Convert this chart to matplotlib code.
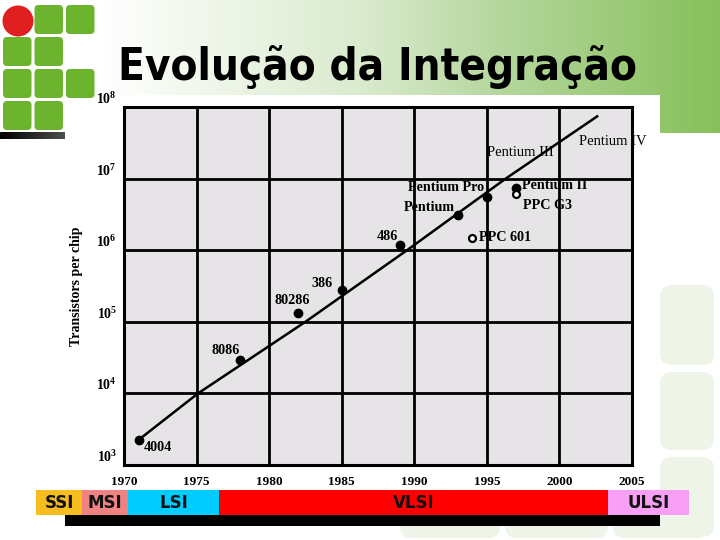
#!/usr/bin/env python3

import numpy as np
from matplotlib import pyplot as plt
from matplotlib import font_manager
from matplotlib.patches import FancyBboxPatch, Circle, Rectangle


# chip data (year, transistors per chip)
chips = ['4004', '8086', '80286', '386', '486', 'Pentium', 'Pentium Pro', 'Pentium II']
chip_years = [1971, 1978, 1982, 1985, 1989, 1993, 1995, 1997]
chip_counts = [2250, 29000, 134000, 275000, 1.2e6, 3.1e6, 5.5e6, 7.5e6]

ppc = ['PPC 601', 'PPC G3']
ppc_years = [1994, 1997]
ppc_counts = [1.5e6, 6.0e6]

# trend line
trend_years = [1971, 1975.1, 1982.5, 1989.5, 1996.3, 2002.6]
trend_counts = [2240, 1e4, 1e5, 1e6, 1e7, 7.4e7]

# labels without a marker
extra = ['Pentium III', 'Pentium IV']
extra_years = [1997.3, 2003.7]
extra_counts = [2.3e7, 3.3e7]

year_ticks = [1970, 1975, 1980, 1985, 1990, 1995, 2000, 2005]
exp_ticks = [3, 4, 5, 6, 7, 8]

eras = ['SSI', 'MSI', 'LSI', 'VLSI', 'ULSI']
era_colors = ['#f7bd1e', '#f08282', '#00ccff', '#ff0000', '#f79ef5']
era_edges = [36, 82, 128, 219, 608, 689]   # pixel layout of the strip


def narrow_font():
    # look for a condensed / narrow bold face, else None
    for f in font_manager.fontManager.ttflist:
        tag = (f.name + ' ' + str(f.stretch)).lower()
        if ('narrow' in tag or 'condensed' in tag) and f.weight in ('bold', 700):
            return f.fname
    return None


plt.switch_backend('agg')
plt.rcParams['mathtext.fontset'] = 'custom'
plt.rcParams['mathtext.rm'] = 'Liberation Serif'
plt.rcParams['mathtext.bf'] = 'Liberation Serif:bold'

serif = 'Liberation Serif'

fig = plt.figure(figsize=(7.2, 5.4), dpi=100)

# slide background in pixel coordinates
bg = fig.add_axes([0, 0, 1, 1], zorder=0)

# header gradient, white -> green
xs = np.linspace(0, 1, 720)
stops = [0.0, 0.14, 0.5, 0.7, 1.0]
cols = np.array([[255, 255, 255], [255, 255, 255], [218, 235, 206],
                 [180, 214, 156], [134, 192, 90]]) / 255.
grad = np.stack([np.interp(xs, stops, cols[:, k]) for k in range(3)], axis=-1)
grad = np.repeat(grad[None, :, :], 2, axis=0)
bg.imshow(grad, extent=[0, 720, 133, 0], aspect='auto', zorder=0)

# pale green blocks bottom right
pale = '#eef5e8'
for (x0, y0, w, h) in [(660, 285, 54, 80), (660, 372, 54, 78), (660, 457, 54, 80),
                       (400, 492, 100, 46), (505, 492, 103, 46), (613, 492, 95, 46)]:
    bg.add_patch(FancyBboxPatch((x0, y0), w, h, boxstyle='round,pad=0,rounding_size=12',
                                fc=pale, ec='none', zorder=1))

# white panel of the chart picture
bg.add_patch(Rectangle((95, 95), 565, 395, fc='white', ec='none', zorder=2))

# logo
green = '#6cb42e'
for (c, r) in [(1, 0), (2, 0), (0, 1), (1, 1), (0, 2), (1, 2), (2, 2), (0, 3), (1, 3)]:
    bg.add_patch(FancyBboxPatch((3 + c * 31.5, 5 + r * 32), 28.5, 29,
                                boxstyle='round,pad=0,rounding_size=4',
                                fc=green, ec='none', zorder=3))
bg.add_patch(Circle((18, 21), 15.5, fc='#e02020', ec='none', zorder=3))
bar = np.linspace(0, 0.3, 64)[None, :].repeat(2, axis=0)
bg.imshow(bar, extent=[0, 65, 139, 132], cmap='gray', vmin=0, vmax=1,
          aspect='auto', zorder=3)

bg.set_xlim(0, 720)
bg.set_ylim(540, 0)
bg.set_axis_off()

nf = narrow_font()
if nf:
    bg.text(377, 67, 'Evolução da Integração',
            fontproperties=font_manager.FontProperties(fname=nf, size=31.5),
            ha='center', va='center', zorder=4)
else:
    bg.text(377, 68, 'Evolução da Integração', fontsize=28.5, fontweight='bold',
            family='DejaVu Sans', ha='center', va='center', zorder=4)

# era strip
bg.add_patch(Rectangle((65, 515), 595, 11, fc='black', ec='none', zorder=3))
for i, name in enumerate(eras):
    x0, x1 = era_edges[i], era_edges[i + 1]
    bg.add_patch(Rectangle((x0, 490), x1 - x0, 25, fc=era_colors[i], ec='none', zorder=4))
    bg.text((x0 + x1) / 2, 503, name, fontsize=12, fontweight='bold',
            ha='center', va='center', color='#111111', zorder=5)

# the chart itself
ax = fig.add_axes([124 / 720, 75 / 540, 508 / 720, 358 / 540], zorder=5)
ax.set_facecolor('#e6e4e6')
ax.set_yscale('log')
ax.set_xlim(1970, 2005)
ax.set_ylim(1e3, 1e8)
ax.set_xticks(year_ticks)
ax.set_xticklabels([str(y) for y in year_ticks], family=serif,
                   fontweight='bold', fontsize=9.5)
ax.set_yticks([10.0 ** e for e in exp_ticks])
ax.set_yticklabels([r'$\mathbf{10^{%d}}$' % e for e in exp_ticks], fontsize=10)
ax.yaxis.set_minor_locator(plt.NullLocator())
ax.tick_params(axis='x', length=0, pad=8)
ax.tick_params(axis='y', length=0, pad=5)
for lab in ax.get_yticklabels():
    lab.set_verticalalignment('bottom')
ax.grid(True, color='black', lw=2)
ax.set_axisbelow(True)
for s in ax.spines.values():
    s.set_linewidth(2.2)
ax.set_ylabel('Transistors per chip', family=serif, fontweight='bold',
              fontsize=10, labelpad=10)

ax.plot(trend_years, trend_counts, color='black', lw=1.8, zorder=3)
ax.plot(chip_years, chip_counts, 'o', color='black', ms=6, zorder=4)
ax.plot(ppc_years, ppc_counts, 'o', mfc='white', mec='black', mew=1.6, ms=5, zorder=4)

lab_kw = dict(family=serif, fontweight='bold', fontsize=10.2, zorder=5)
offsets = {
    '4004': (5, -8, 'left'),
    '8086': (-14, 10, 'center'),
    '80286': (-6, 12, 'center'),
    '386': (-20, 7, 'center'),
    '486': (-12, 8, 'center'),
    'Pentium': (-29, 8, 'center'),
    'Pentium Pro': (-41, 10, 'center'),
    'Pentium II': (6, 2, 'left'),
}
for name, yr, cnt in zip(chips, chip_years, chip_counts):
    dx, dy, ha = offsets[name]
    ax.annotate(name, (yr, cnt), xytext=(dx, dy), textcoords='offset pixels',
                ha=ha, va='center', **lab_kw)

ppc_off = {'PPC 601': (7, 0), 'PPC G3': (7, -11)}
for name, yr, cnt in zip(ppc, ppc_years, ppc_counts):
    dx, dy = ppc_off[name]
    ax.annotate(name, (yr, cnt), xytext=(dx, dy), textcoords='offset pixels',
                ha='left', va='center', **lab_kw)

for name, yr, cnt in zip(extra, extra_years, extra_counts):
    ax.text(yr, cnt, name, family=serif, fontsize=10.5, ha='center', va='center',
            clip_on=False, zorder=5)

plt.savefig('out.png', dpi=100)
